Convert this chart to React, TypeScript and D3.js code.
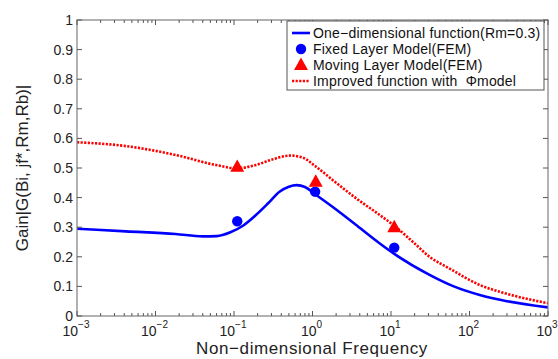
import React from "react"
import * as d3 from "d3"

// One-dimensional function (Rm=0.3)
const blueFreq = [0.001, 0.0042, 0.018, 0.04, 0.06, 0.09, 0.13, 0.19, 0.27, 0.38, 0.5, 0.63, 0.8, 1.1, 2, 3.5, 7.2, 11, 31, 63, 135, 300, 1000]
const blueGain = [0.295, 0.286, 0.277, 0.269, 0.27, 0.283, 0.305, 0.341, 0.38, 0.42, 0.437, 0.442, 0.436, 0.41, 0.36, 0.31, 0.245, 0.21, 0.139, 0.1, 0.071, 0.05, 0.029]

// Improved function with Phi model
const redFreq = [0.001, 0.0042, 0.018, 0.059, 0.107, 0.19, 0.3, 0.52, 0.75, 1.1, 2, 3.5, 7.2, 11, 20, 31, 56, 135, 300, 1000]
const redGain = [0.587, 0.574, 0.544, 0.51, 0.499, 0.51, 0.528, 0.542, 0.535, 0.505, 0.45, 0.4, 0.341, 0.305, 0.245, 0.2, 0.16, 0.105, 0.075, 0.043]

// FEM results
const fixedFreq = [0.11, 1.08, 11]
const fixedGain = [0.32, 0.42, 0.231]
const movingFreq = [0.11, 1.1, 11]
const movingGain = [0.504, 0.454, 0.3]

const yTicks = [0, 0.1, 0.2, 0.3, 0.4, 0.5, 0.6, 0.7, 0.8, 0.9, 1]
const xTickLabels = [
  { v: 1e-3, e: "−3" },
  { v: 1e-2, e: "−2" },
  { v: 1e-1, e: "−1" },
  { v: 1, e: "0" },
  { v: 10, e: "1" },
  { v: 100, e: "2" },
  { v: 1000, e: "3" },
]

const legendLabels = [
  "One−dimensional function(Rm=0.3)",
  "Fixed Layer Model(FEM)",
  "Moving Layer Model(FEM)",
  "Improved function with  Φmodel",
]

const W = 558
const H = 359
const left = 77
const right = 548
const top = 20
const bottom = 316

const axisFont = "'Liberation Sans', Arial, sans-serif"

export default function App() {
  const x = d3.scaleLog().domain([1e-3, 1e3]).range([left, right])
  const y = d3.scaleLinear().domain([0, 1]).range([bottom, top])

  const line = d3
    .line<[number, number]>()
    .x((d) => x(d[0]))
    .y((d) => y(d[1]))
    .curve(d3.curveMonotoneX)

  const bluePath = line(blueFreq.map((f, i) => [f, blueGain[i]])) || ""
  const redPath = line(redFreq.map((f, i) => [f, redGain[i]])) || ""

  const xTicks = x.ticks()
  const isMajor = (v: number) => Math.abs(Math.log10(v) - Math.round(Math.log10(v))) < 1e-6

  const tri = (cx: number, cy: number, s: number) =>
    `M${cx},${cy - s * 0.62}L${cx + s * 0.58},${cy + s * 0.42}L${cx - s * 0.58},${cy + s * 0.42}Z`

  const legX = 287
  const legY = 21
  const rows = [33, 49, 65, 81]

  return (
    <svg width={W} height={H} style={{ position: "absolute", left: 0, top: 0, background: "#fff" }}>
      <defs>
        <clipPath id="plot">
          <rect x={left} y={top} width={right - left} height={bottom - top} />
        </clipPath>
      </defs>

      {/* curves */}
      <g clipPath="url(#plot)">
        <path d={bluePath} fill="none" stroke="#0000ff" strokeWidth={2.6} />
        <path d={redPath} fill="none" stroke="#ff0000" strokeWidth={2.6} strokeDasharray="2.2,1.4" />
      </g>

      {/* markers */}
      {fixedFreq.map((f, i) => (
        <circle key={"c" + i} cx={x(f)} cy={y(fixedGain[i])} r={5.2} fill="#0000ff" />
      ))}
      {movingFreq.map((f, i) => (
        <path key={"t" + i} d={tri(x(f), y(movingGain[i]), 12)} fill="#ff0000" />
      ))}

      {/* frame */}
      <rect x={left} y={top} width={right - left} height={bottom - top} fill="none" stroke="#7f7f7f" strokeWidth={1.2} />

      {/* x ticks */}
      {xTicks.map((v, i) => {
        const len = isMajor(v) ? 5 : 3
        const px = x(v)
        return (
          <g key={"xt" + i} stroke="#555" strokeWidth={1}>
            <line x1={px} x2={px} y1={bottom} y2={bottom - len} />
            <line x1={px} x2={px} y1={top} y2={top + len} />
          </g>
        )
      })}

      {/* y ticks */}
      {yTicks.map((v, i) => (
        <g key={"yt" + i} stroke="#555" strokeWidth={1}>
          <line x1={left} x2={left + 5} y1={y(v)} y2={y(v)} />
          <line x1={right} x2={right - 5} y1={y(v)} y2={y(v)} />
        </g>
      ))}

      {/* y tick labels */}
      {yTicks.map((v, i) => (
        <text
          key={"yl" + i}
          x={73}
          y={y(v) + 5}
          textAnchor="end"
          fontFamily={axisFont}
          fontSize={14}
          fill="#222"
        >
          {v === 0 ? "0" : v === 1 ? "1" : v.toFixed(1)}
        </text>
      ))}

      {/* x tick labels */}
      {xTickLabels.map((t, i) => (
        <text key={"xl" + i} x={x(t.v) - 1} y={336} textAnchor="middle" fontFamily={axisFont} fontSize={14} fill="#222">
          10
          <tspan dy={-8} fontSize={10}>
            {t.e}
          </tspan>
        </text>
      ))}

      {/* axis titles */}
      <text x={312} y={354} textAnchor="middle" fontFamily={axisFont} fontSize={17} letterSpacing={0.6} fill="#222">
        Non−dimensional Frequency
      </text>
      <text
        transform={`translate(28,${(top + bottom) / 2}) rotate(-90)`}
        textAnchor="middle"
        fontFamily={axisFont}
        fontSize={17}
        fill="#222"
      >
        Gain|G(Bi, jf*,Rm,Rb)|
      </text>

      {/* legend */}
      <rect x={legX} y={legY} width={257} height={69} fill="#fff" stroke="#555" strokeWidth={1} />
      <line x1={292} x2={310} y1={rows[0]} y2={rows[0]} stroke="#0000ff" strokeWidth={2.6} />
      <circle cx={301} cy={rows[1]} r={5.2} fill="#0000ff" />
      <path d={tri(301, rows[2], 12)} fill="#ff0000" />
      <line x1={292} x2={310} y1={rows[3]} y2={rows[3]} stroke="#ff0000" strokeWidth={2.6} strokeDasharray="2.2,1.4" />
      {legendLabels.map((s, i) => (
        <text
          key={"lg" + i}
          x={313}
          y={rows[i] + 5}
          fontFamily={axisFont}
          fontSize={14}
          letterSpacing={0.2}
          fill="#111"
          style={{ whiteSpace: "pre" }}
        >
          {s}
        </text>
      ))}
    </svg>
  )
}
